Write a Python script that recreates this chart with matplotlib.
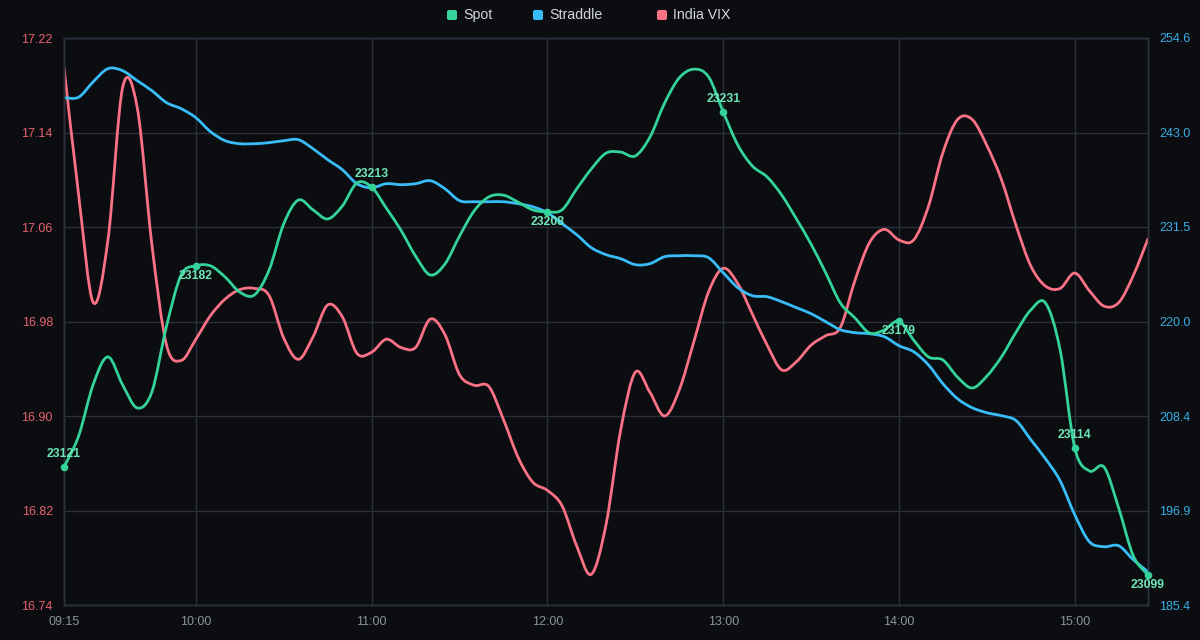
import matplotlib
matplotlib.use("Agg")
import matplotlib.pyplot as plt
import numpy as np
from matplotlib.path import Path
from matplotlib.patches import PathPatch, FancyBboxPatch

# minutes since 09:15, one reading every 5 minutes up to 15:25
minutes = np.arange(0, 375, 5)

spot = [23129.4, 23138.3, 23153.1, 23160.9, 23152.9, 23146.3, 23150.9, 23169.7, 23184.3, 23186.9,
        23186.9, 23183.7, 23179.4, 23178.6, 23185.7, 23198.9, 23205.7, 23202.9, 23200.3, 23204.0,
        23210.6, 23209.4, 23203.4, 23197.1, 23189.7, 23184.3, 23187.4, 23195.4, 23202.6, 23206.6,
        23207.1, 23205.1, 23202.9, 23202.3, 23202.9, 23208.9, 23214.6, 23219.1, 23219.4, 23218.3,
        23223.7, 23233.4, 23240.6, 23243.1, 23240.9, 23230.9, 23221.4, 23215.4, 23212.3, 23207.1,
        23200.3, 23193.1, 23184.9, 23176.3, 23172.0, 23167.7, 23168.6, 23171.1, 23165.7, 23160.9,
        23160.0, 23155.1, 23152.0, 23155.4, 23160.9, 23168.0, 23174.3, 23176.3, 23162.9, 23134.9,
        23128.3, 23129.4, 23117.7, 23104.0, 23098.6]

straddle = [247.28, 247.34, 249.23, 250.82, 250.57, 249.35, 248.13, 246.67, 245.93, 244.84,
            243.13, 242.03, 241.66, 241.66, 241.79, 242.03, 242.15, 241.05, 239.71, 238.49,
            236.78, 236.29, 236.78, 236.66, 236.78, 237.15, 236.17, 234.71, 234.58, 234.58,
            234.58, 234.34, 233.97, 233.24, 231.90, 230.56, 228.97, 228.12, 227.63, 226.90,
            227.02, 227.87, 227.99, 227.99, 227.75, 225.92, 224.09, 223.11, 222.99, 222.38,
            221.65, 220.92, 219.94, 218.96, 218.60, 218.47, 218.11, 217.01, 216.28, 214.69,
            212.37, 210.54, 209.44, 208.83, 208.47, 207.86, 205.54, 203.22, 200.53, 196.38,
            193.09, 192.48, 192.60, 190.89, 189.43]

india_vix = [17.195, 17.087, 16.996, 17.049, 17.178, 17.161, 17.045, 16.960, 16.947, 16.965,
             16.985, 16.999, 17.007, 17.008, 17.002, 16.966, 16.948, 16.967, 16.994, 16.984,
             16.953, 16.954, 16.965, 16.958, 16.958, 16.982, 16.969, 16.935, 16.926, 16.925,
             16.897, 16.865, 16.844, 16.837, 16.824, 16.790, 16.766, 16.808, 16.888, 16.937,
             16.920, 16.900, 16.922, 16.963, 17.005, 17.025, 17.012, 16.986, 16.960, 16.939,
             16.946, 16.960, 16.968, 16.975, 17.015, 17.047, 17.058, 17.049, 17.049, 17.077,
             17.123, 17.151, 17.151, 17.129, 17.100, 17.061, 17.027, 17.010, 17.008, 17.021,
             17.006, 16.993, 16.996, 17.019, 17.050]

time_ticks = [0, 45, 105, 165, 225, 285, 345]
time_labels = ["09:15", "10:00", "11:00", "12:00", "13:00", "14:00", "15:00"]

# labelled spot readings (index into the series, printed price)
spot_mark_idx = [0, 9, 21, 33, 45, 57, 69, 74]
spot_mark_text = ["23121", "23182", "23213", "23208", "23231", "23179", "23114", "23099"]

vix_ticks = [16.74, 16.82, 16.90, 16.98, 17.06, 17.14, 17.22]
straddle_ticks = [185.37, 196.90, 208.43, 219.97, 231.50, 243.03, 254.56]

BG = "#0b0d11"
GRID = "#2a2f3a"
C_SPOT = "#34d399"
C_STRADDLE = "#38bdf8"
C_VIX = "#fb7185"

plt.rcParams["font.family"] = ["Liberation Sans", "DejaVu Sans"]


def smooth_line(ax, x, y, color):
    # catmull-rom style bezier through the readings
    x = np.asarray(x, float)
    y = np.asarray(y, float)
    xp = np.r_[x[0], x, x[-1]]
    yp = np.r_[y[0], y, y[-1]]
    verts = [(x[0], y[0])]
    codes = [Path.MOVETO]
    for i in range(len(x) - 1):
        c1 = (x[i] + (xp[i + 2] - xp[i]) / 6, y[i] + (yp[i + 2] - yp[i]) / 6)
        c2 = (x[i + 1] - (xp[i + 3] - xp[i + 1]) / 6, y[i + 1] - (yp[i + 3] - yp[i + 1]) / 6)
        verts += [c1, c2, (x[i + 1], y[i + 1])]
        codes += [Path.CURVE4] * 3
    patch = PathPatch(Path(verts, codes), fill=False, edgecolor=color, lw=2.0,
                      capstyle="round", joinstyle="round", zorder=3)
    ax.add_patch(patch)


fig = plt.figure(figsize=(12, 6.4), dpi=100, facecolor=BG)
ax = fig.add_axes([64 / 1200, 35 / 640, 1084 / 1200, 567 / 640])
ax.set_facecolor(BG)
ax2 = ax.twinx()
ax3 = ax.twinx()

# India VIX on the left axis
smooth_line(ax, minutes, india_vix, C_VIX)
ax.set_xlim(0, 370)
ax.set_ylim(vix_ticks[0], vix_ticks[-1])
ax.set_yticks(vix_ticks)
ax.set_yticklabels([f"{v:.2f}" for v in vix_ticks])
ax.set_xticks(time_ticks)
ax.set_xticklabels(time_labels)
ax.grid(True, color=GRID, lw=1)
ax.tick_params(axis="y", length=0, pad=8, labelsize=9, labelcolor="#e8626f")
ax.tick_params(axis="x", length=0, pad=8, labelsize=9, labelcolor="#8b929e")

# Straddle on the right axis
smooth_line(ax2, minutes, straddle, C_STRADDLE)
ax2.set_ylim(straddle_ticks[0], straddle_ticks[-1])
ax2.set_yticks(straddle_ticks)
ax2.set_yticklabels([f"{v:.1f}" for v in straddle_ticks])
ax2.tick_params(axis="y", length=0, pad=8, labelsize=9, labelcolor="#3aaee6")

# Spot on a hidden axis
smooth_line(ax3, minutes, spot, C_SPOT)
ax3.set_ylim(23090, 23252)
ax3.set_yticks([])
mx = minutes[spot_mark_idx]
my = np.asarray(spot)[spot_mark_idx]
ax3.scatter(mx, my, s=30, color=C_SPOT, zorder=5, clip_on=False, linewidths=0)
for k, (xv, yv, txt) in enumerate(zip(mx, my, spot_mark_text)):
    above = k % 2 == 0
    ax3.annotate(txt, (xv, yv), xytext=(0, 9.4 if above else -7.4), textcoords="offset points",
                 ha="center", va="center", fontsize=8.8, fontweight="bold", color="#6ee7b7",
                 zorder=6)

for a in (ax, ax2, ax3):
    for sp in a.spines.values():
        sp.set_color(GRID)
        sp.set_linewidth(1)

# legend along the top
legend_items = [("Spot", C_SPOT, 447), ("Straddle", C_STRADDLE, 533), ("India VIX", C_VIX, 657)]
for name, col, px in legend_items:
    fig.patches.append(FancyBboxPatch((px / 100, (640 - 20) / 100), 0.10, 0.10,
                                      boxstyle="round,pad=0,rounding_size=0.02",
                                      transform=fig.dpi_scale_trans, facecolor=col,
                                      edgecolor="none"))
    fig.text((px + 16) / 1200, 1 - 15 / 640, name, ha="left", va="center",
             fontsize=10.2, color="#d4d7dd")

fig.savefig("out.png", dpi=100, facecolor=BG)
